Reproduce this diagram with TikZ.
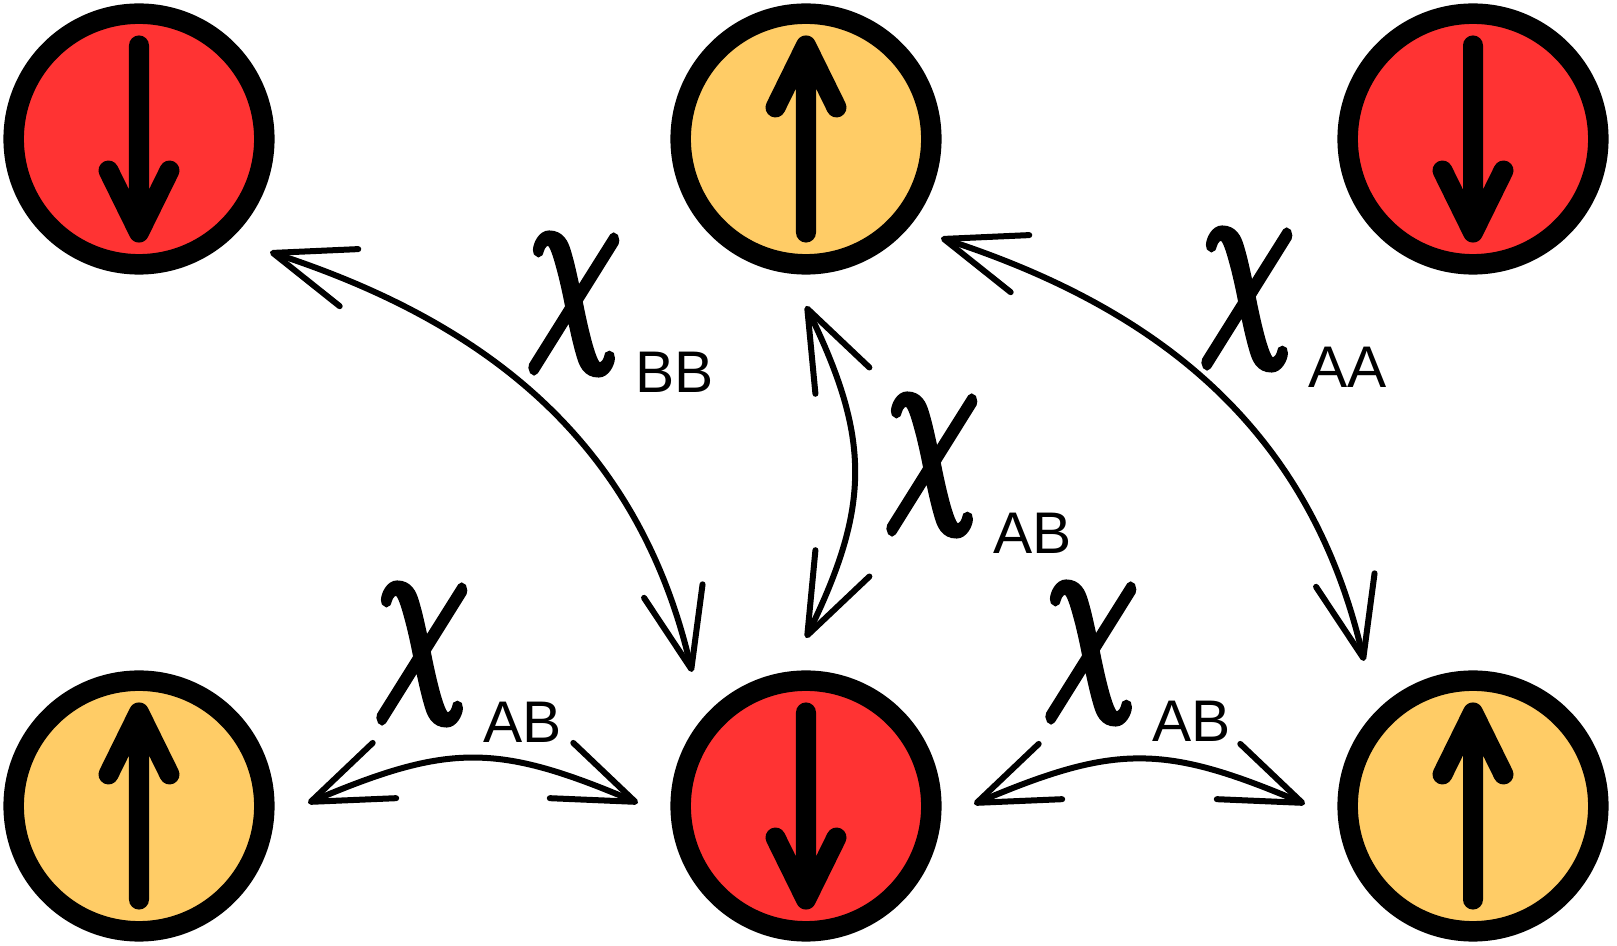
\documentclass[tikz,border=0pt]{standalone}
\usepackage{fontspec}
\newfontfamily\subfont{Liberation Sans}
\newfontfamily\chifont{Latin Modern Math}[FakeBold=5]
\usetikzlibrary{arrows.meta}
\definecolor{siteRed}{HTML}{FF3333}
\definecolor{siteYellow}{HTML}{FFCC66}
\newcommand{\coupling}[1]{\rlap{\scalebox{0.7}[1]{\fontsize{60}{60}\selectfont\chifont\symbol{"1D712}}}\hspace{1.08cm}\raisebox{-0.63cm}{\fontsize{16.7}{18}\selectfont\subfont #1}}

\begin{document}
\begin{tikzpicture}[
    x=0.01cm, y=0.01cm,
    site/.style={circle, draw, line width=0.205cm, minimum size=2.505cm, inner sep=0pt},
    siteA/.style={site, fill=siteYellow},
    siteB/.style={site, fill=siteRed},
    spin/.style={line width=0.2cm, line cap=round, line join=round},
    link/.style={line width=0.06cm, <->, >={Straight Barb[length=0.8cm, width=0.6cm, round]}},
    lbl/.style={inner sep=0pt, anchor=base west}
]
\useasboundingbox (0,0) rectangle (1617,-946);

% lattice sites
\node[siteB] (bTL) at (139,-139) {};
\node[siteA] (aTM) at (806,-139) {};
\node[siteB] (bTR) at (1473,-139) {};
\node[siteA] (aBL) at (139,-806) {};
\node[siteB] (bBM) at (806,-806) {};
\node[siteA] (aBR) at (1473,-806) {};

% spins
\foreach \s in {bTL,bTR,bBM}
  \draw[spin] ([yshift=0.935cm]\s.center) -- ([yshift=-0.935cm]\s.center)
    ([xshift=-0.305cm,yshift=-0.315cm]\s.center) -- ([yshift=-0.935cm]\s.center) -- ([xshift=0.305cm,yshift=-0.315cm]\s.center);
\foreach \s in {aTM,aBL,aBR}
  \draw[spin] ([yshift=-0.935cm]\s.center) -- ([yshift=0.935cm]\s.center)
    ([xshift=-0.305cm,yshift=0.315cm]\s.center) -- ([yshift=0.935cm]\s.center) -- ([xshift=0.305cm,yshift=0.315cm]\s.center);

% ends of the exchange arrows
\coordinate (bbTop) at (270,-252);
\coordinate (bbBot) at (692,-672);
\coordinate (aaTop) at (941,-238);
\coordinate (aaBot) at (1364,-661);
\coordinate (abTop) at (806,-306);
\coordinate (abBot) at (806,-638);
\coordinate (abL1) at (308,-803);
\coordinate (abL2) at (638,-803);
\coordinate (abR1) at (974,-804);
\coordinate (abR2) at (1305,-804);

\draw[link] (bbTop) to[out=-18, in=103] (bbBot);
\draw[link] (aaTop) to[out=-18, in=103] (aaBot);
\draw[link] (abTop) to[out=-64, in=64, looseness=1.14] (abBot);
\draw[link] (abL1) to[out=23, in=157, looseness=1.19] (abL2);
\draw[link] (abR1) to[out=23, in=157, looseness=1.19] (abR2);

% couplings
\node[lbl] (chiBB) at (527,-329) {\coupling{BB}};
\node[lbl] (chiAA) at (1200,-324) {\coupling{AA}};
\node[lbl] (chiABv) at (885,-490) {\coupling{AB}};
\node[lbl] (chiABl) at (375,-679) {\coupling{AB}};
\node[lbl] (chiABr) at (1044,-678) {\coupling{AB}};
\end{tikzpicture}
\end{document}
